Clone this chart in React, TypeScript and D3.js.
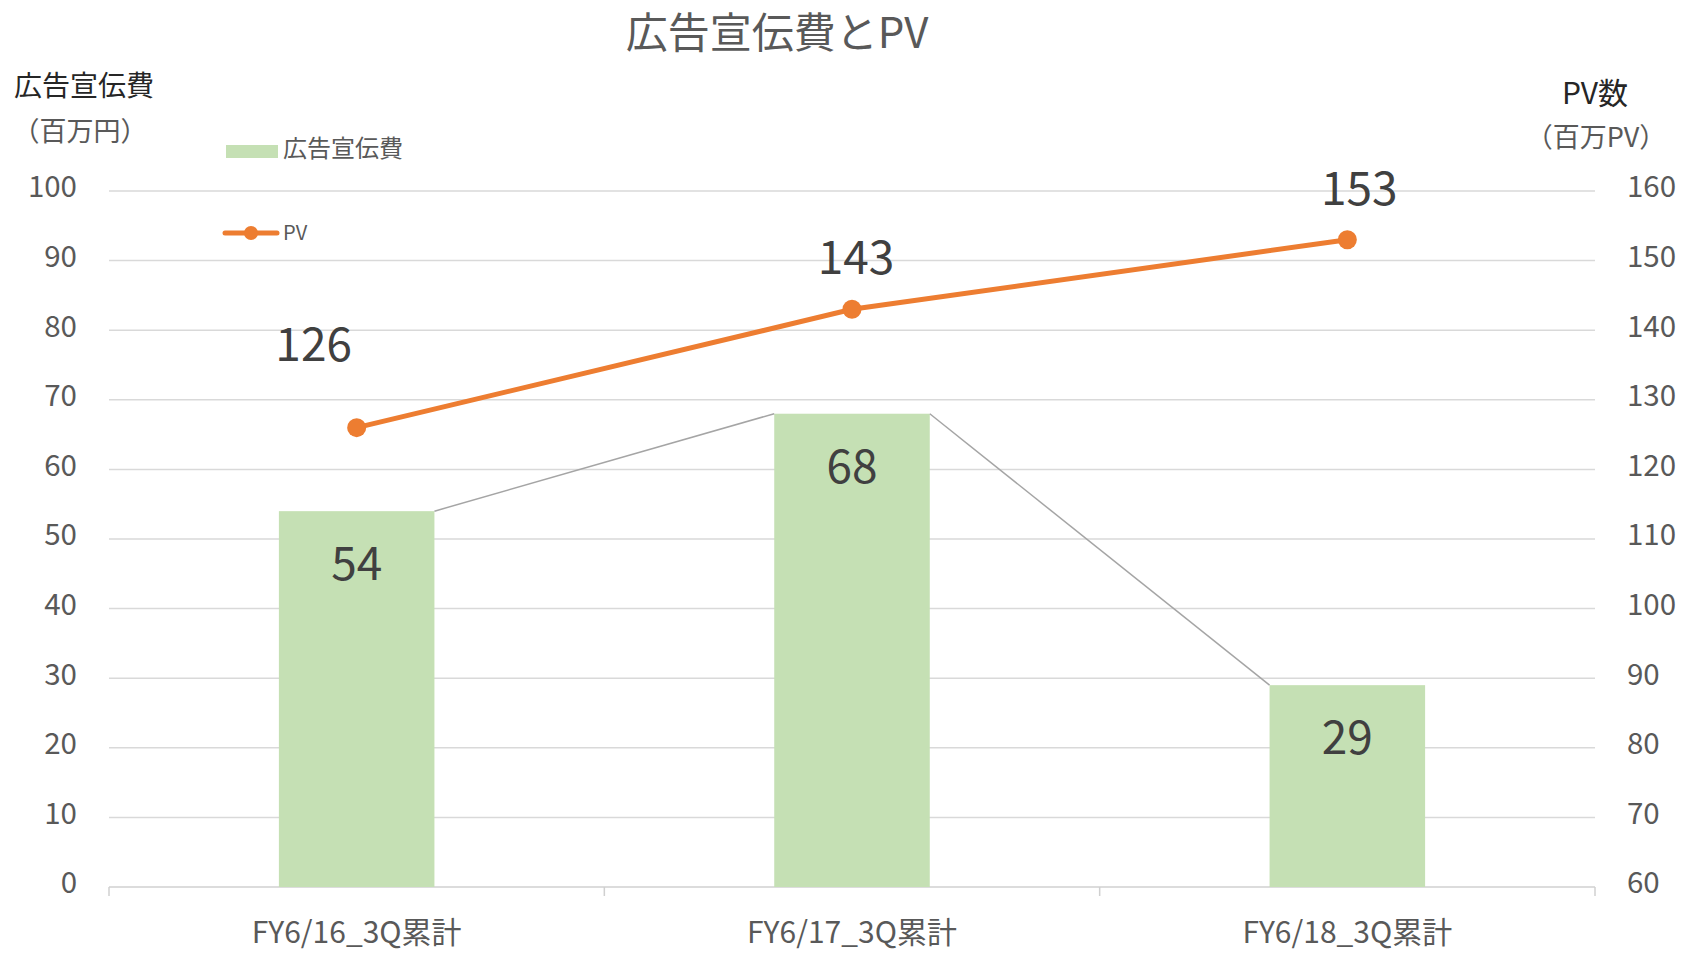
import React, { useEffect, useRef } from 'react';
import * as d3 from 'd3';

const categories = ['FY6/16_3Q累計', 'FY6/17_3Q累計', 'FY6/18_3Q累計'];
const adSpend = [54, 68, 29];
const pageViews = [126, 143, 153];
const leftTicks = [0, 10, 20, 30, 40, 50, 60, 70, 80, 90, 100];
const rightTicks = [60, 70, 80, 90, 100, 110, 120, 130, 140, 150, 160];
// manual nudges for the PV data labels (px)
const pvLabelNudge = [[-43, -32], [4, 0], [12, 0]];

const FONT = '"Noto Sans CJK JP", "Noto Sans", sans-serif';

const App = () => {
  const ref = useRef<SVGSVGElement>(null);

  useEffect(() => {
    const width = 1682;
    const height = 954;
    const left = 109;
    const right = 1595;
    const top = 191;
    const bottom = 887;

    const svg = d3.select(ref.current);
    svg.selectAll('*').remove();
    svg.attr('width', width).attr('height', height).style('font-family', FONT);

    const x = d3.scaleBand().domain(categories).range([left, right]).padding(0);
    const yL = d3.scaleLinear().domain([0, 100]).range([bottom, top]);
    const yR = d3.scaleLinear().domain([60, 160]).range([bottom, top]);
    const barW = x.bandwidth() * 0.314;
    const cx = (c: string) => (x(c) as number) + x.bandwidth() / 2;

    // gridlines
    svg
      .append('g')
      .selectAll('line')
      .data(leftTicks.filter(t => t > 0))
      .enter()
      .append('line')
      .attr('x1', left)
      .attr('x2', right)
      .attr('y1', d => yL(d))
      .attr('y2', d => yL(d))
      .attr('stroke', '#d9d9d9')
      .attr('stroke-width', 1.5);

    // category axis
    svg
      .append('line')
      .attr('x1', left)
      .attr('x2', right)
      .attr('y1', bottom)
      .attr('y2', bottom)
      .attr('stroke', '#d0d0d0')
      .attr('stroke-width', 1.5);
    const bounds = [...categories.map(c => x(c) as number), right];
    svg
      .append('g')
      .selectAll('line')
      .data(bounds)
      .enter()
      .append('line')
      .attr('x1', d => d)
      .attr('x2', d => d)
      .attr('y1', bottom)
      .attr('y2', bottom + 9)
      .attr('stroke', '#d0d0d0')
      .attr('stroke-width', 1.5);

    // bars
    svg
      .append('g')
      .selectAll('rect')
      .data(adSpend)
      .enter()
      .append('rect')
      .attr('x', (d, i) => cx(categories[i]) - barW / 2)
      .attr('y', d => yL(d))
      .attr('width', barW)
      .attr('height', d => bottom - yL(d))
      .attr('fill', '#c5e0b4');

    // series lines between bar tops
    const seriesLines = adSpend.slice(0, -1).map((d, i) => ({
      x1: cx(categories[i]) + barW / 2,
      y1: yL(d),
      x2: cx(categories[i + 1]) - barW / 2,
      y2: yL(adSpend[i + 1]),
    }));
    svg
      .append('g')
      .selectAll('line')
      .data(seriesLines)
      .enter()
      .append('line')
      .attr('x1', d => d.x1)
      .attr('y1', d => d.y1)
      .attr('x2', d => d.x2)
      .attr('y2', d => d.y2)
      .attr('stroke', '#a5a5a5')
      .attr('stroke-width', 1.5);

    // bar labels
    svg
      .append('g')
      .selectAll('text')
      .data(adSpend)
      .enter()
      .append('text')
      .text(d => d)
      .attr('x', (d, i) => cx(categories[i]))
      .attr('y', d => yL(d) + 69)
      .attr('text-anchor', 'middle')
      .style('font-size', '46px')
      .style('fill', '#404040');

    // PV line
    const line = d3
      .line<number>()
      .x((d, i) => cx(categories[i]))
      .y(d => yR(d));
    svg
      .append('path')
      .datum(pageViews)
      .attr('d', line)
      .attr('fill', 'none')
      .attr('stroke', '#ed7d31')
      .attr('stroke-width', 5)
      .attr('stroke-linecap', 'round');
    svg
      .append('g')
      .selectAll('circle')
      .data(pageViews)
      .enter()
      .append('circle')
      .attr('cx', (d, i) => cx(categories[i]))
      .attr('cy', d => yR(d))
      .attr('r', 9.5)
      .attr('fill', '#ed7d31');
    svg
      .append('g')
      .selectAll('text')
      .data(pageViews)
      .enter()
      .append('text')
      .text(d => d)
      .attr('x', (d, i) => cx(categories[i]) + pvLabelNudge[i][0])
      .attr('y', (d, i) => yR(d) - 35 + pvLabelNudge[i][1])
      .attr('text-anchor', 'middle')
      .style('font-size', '46px')
      .style('fill', '#404040');

    // left ticks
    svg
      .append('g')
      .selectAll('text')
      .data(leftTicks)
      .enter()
      .append('text')
      .text(d => d)
      .attr('x', 77)
      .attr('y', d => yL(d) - 4)
      .attr('dy', '0.35em')
      .attr('text-anchor', 'end')
      .style('font-size', '29.5px')
      .style('fill', '#595959');

    // right ticks
    svg
      .append('g')
      .selectAll('text')
      .data(rightTicks)
      .enter()
      .append('text')
      .text(d => d)
      .attr('x', 1627)
      .attr('y', d => yR(d) - 4)
      .attr('dy', '0.35em')
      .attr('text-anchor', 'start')
      .style('font-size', '29.5px')
      .style('fill', '#595959');

    // category labels
    svg
      .append('g')
      .selectAll('text')
      .data(categories)
      .enter()
      .append('text')
      .text(d => d)
      .attr('x', d => cx(d))
      .attr('y', 943)
      .attr('text-anchor', 'middle')
      .style('font-size', '30px')
      .style('fill', '#595959');

    // title
    svg
      .append('text')
      .text('広告宣伝費とPV')
      .attr('x', 777)
      .attr('y', 33)
      .attr('dy', '0.35em')
      .attr('text-anchor', 'middle')
      .style('font-size', '42px')
      .style('fill', '#595959');

    // axis titles
    const titles = [
      { t: '広告宣伝費', x: 84, y: 86, s: 28, c: '#262626' },
      { t: '（百万円）', x: 80, y: 132, s: 27, c: '#595959' },
      { t: 'PV数', x: 1595, y: 93, s: 30, c: '#262626' },
      { t: '（百万PV）', x: 1596, y: 138, s: 27, c: '#595959' },
    ];
    svg
      .append('g')
      .selectAll('text')
      .data(titles)
      .enter()
      .append('text')
      .text(d => d.t)
      .attr('x', d => d.x)
      .attr('y', d => d.y)
      .attr('dy', '0.35em')
      .attr('text-anchor', 'middle')
      .style('font-size', d => d.s + 'px')
      .style('fill', d => d.c);

    // legend
    const legend = svg.append('g');
    legend
      .append('rect')
      .attr('x', 226)
      .attr('y', 145)
      .attr('width', 52)
      .attr('height', 13)
      .attr('fill', '#c5e0b4');
    legend
      .append('text')
      .text('広告宣伝費')
      .attr('x', 283)
      .attr('y', 149)
      .attr('dy', '0.35em')
      .style('font-size', '24px')
      .style('fill', '#595959');
    legend
      .append('line')
      .attr('x1', 225)
      .attr('x2', 277)
      .attr('y1', 233)
      .attr('y2', 233)
      .attr('stroke', '#ed7d31')
      .attr('stroke-width', 5)
      .attr('stroke-linecap', 'round');
    legend
      .append('circle')
      .attr('cx', 251)
      .attr('cy', 233)
      .attr('r', 7)
      .attr('fill', '#ed7d31');
    legend
      .append('text')
      .text('PV')
      .attr('x', 283)
      .attr('y', 233)
      .attr('dy', '0.35em')
      .style('font-size', '20px')
      .style('fill', '#595959');
  }, []);

  return <svg ref={ref} style={{ position: 'absolute', left: 0, top: 0 }}></svg>;
};

export default App;
